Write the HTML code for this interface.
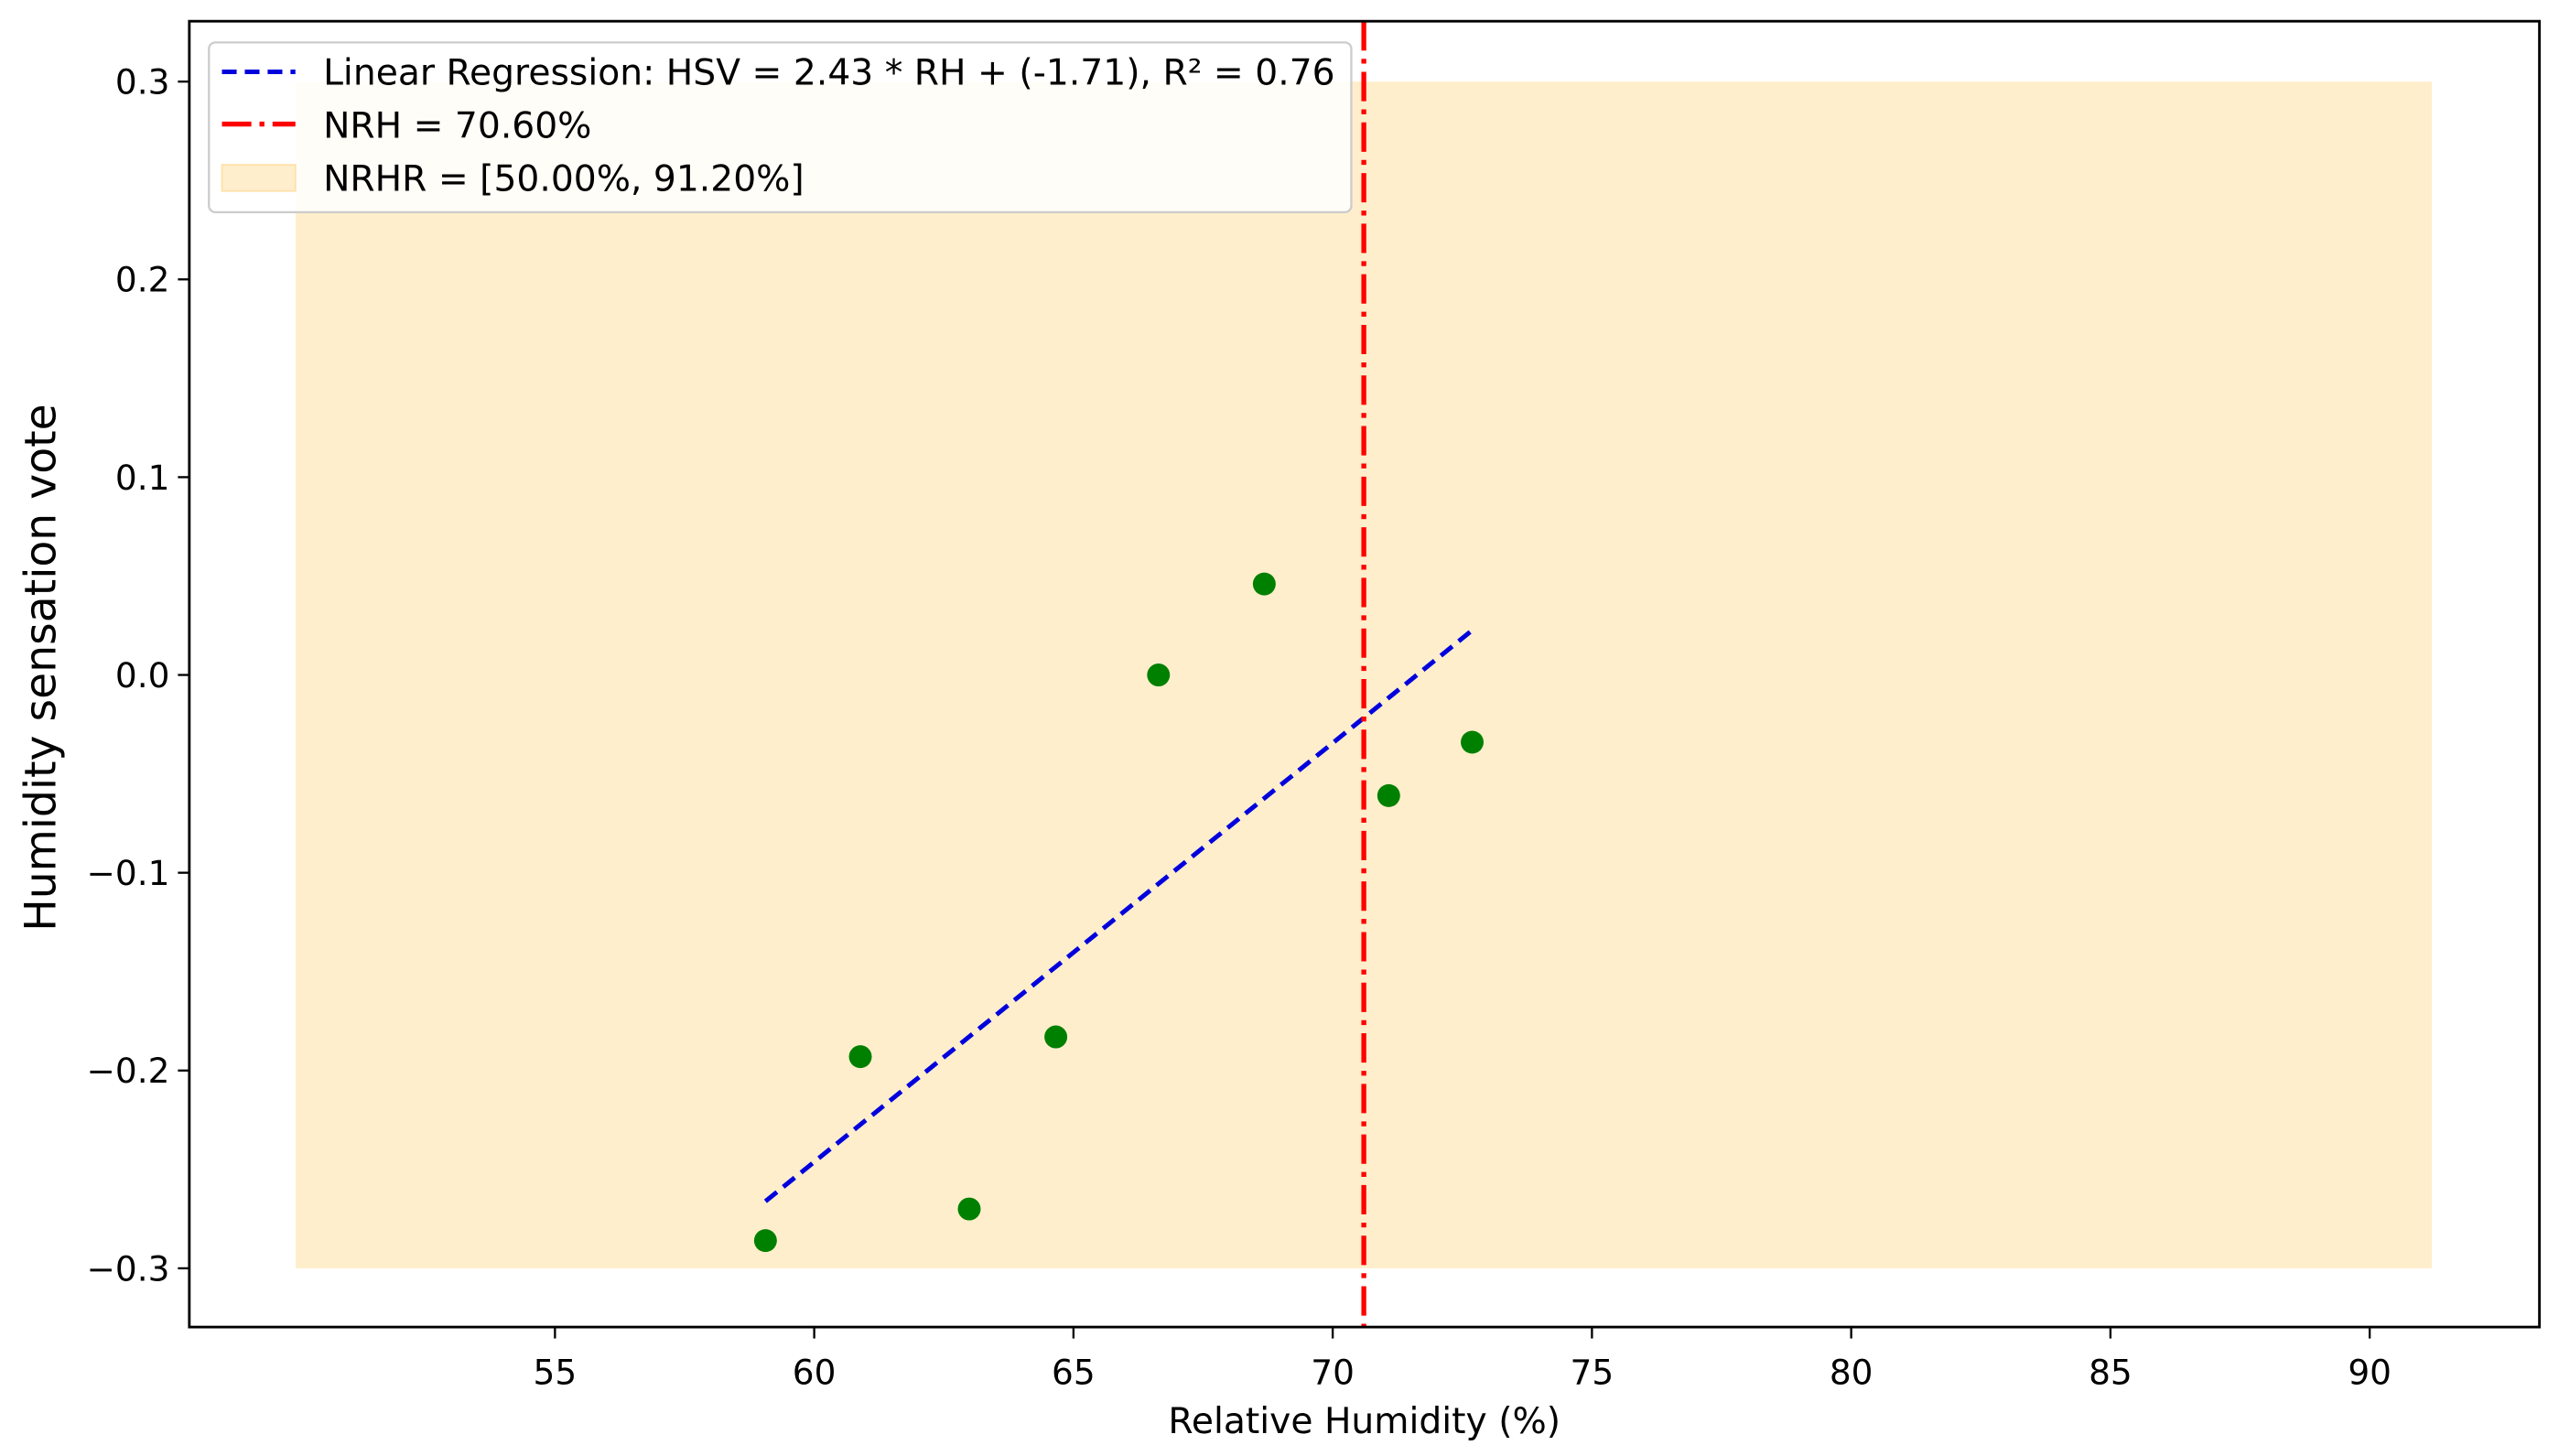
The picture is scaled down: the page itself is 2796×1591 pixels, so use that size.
<!DOCTYPE html>
<html><head><meta charset="utf-8"><style>html,body{margin:0;padding:0;background:#fff}svg{display:block}text{font-family:"DejaVu Sans","Liberation Sans",sans-serif;fill:#000}</style></head>
<body>
<svg id="chart" width="2796" height="1591" viewBox="0 0 1568 892" preserveAspectRatio="none" xmlns="http://www.w3.org/2000/svg">
<g id="plot"></g>
</svg>
<script>
const rhValues=[59.06,60.89,62.99,64.66,66.64,68.68,71.08,72.69];
const hsvValues=[-0.286,-0.193,-0.270,-0.183,0.000,0.046,-0.061,-0.034];
const xTicks=[55,60,65,70,75,80,85,90];
const yTicks=[-0.3,-0.2,-0.1,0.0,0.1,0.2,0.3];
const regSlope=[0.02118];
const regIntercept=[-1.517];
const nrh=[70.6];
const nrhr=[50.0,91.2];
const bandY=[-0.3,0.3];

const L=116,R=1556,T=13,B=813;
const xs=v=>181.2+(v-50)*31.77;
const ys=v=>413.5-v*1211.7;
const g=document.getElementById('plot');
const NS='http://www.w3.org/2000/svg';
function mk(tag,attrs,parent){const e=document.createElementNS(NS,tag);for(const k in attrs)e.setAttribute(k,attrs[k]);(parent||g).appendChild(e);return e;}

let e=mk('rect',{x:xs(nrhr[0]),y:ys(bandY[1]),width:xs(nrhr[1])-xs(nrhr[0]),height:ys(bandY[0])-ys(bandY[1]),fill:'#ffeecc'});



const rx0=rhValues[0],rx1=rhValues[rhValues.length-1];
e=mk('line',{x1:xs(rx0),y1:ys(regSlope[0]*rx0+regIntercept[0]),x2:xs(rx1),y2:ys(regSlope[0]*rx1+regIntercept[0]),stroke:'#0000dd','stroke-width':2.8,'stroke-dasharray':'9,5'});



rhValues.forEach((v,i)=>{
  const c=mk('circle',{cx:xs(v),cy:ys(hsvValues[i]),r:7,fill:'#008000'});
  
  
});

e=mk('line',{x1:xs(nrh[0]),y1:T,x2:xs(nrh[0]),y2:B,stroke:'#ff0000','stroke-width':3,'stroke-dasharray':'18,5,3,5'});



e=mk('rect',{x:L,y:T,width:R-L,height:B-T,fill:'none',stroke:'#000','stroke-width':1.6});



xTicks.forEach(v=>{
  const t=mk('line',{x1:xs(v),y1:B,x2:xs(v),y2:B+7,stroke:'#000','stroke-width':1.3});
  
  
  const l=mk('text',{x:xs(v),y:B+35,'text-anchor':'middle','font-size':21});
  l.textContent=v;
  
  
});
yTicks.forEach(v=>{
  const t=mk('line',{x1:L-7,y1:ys(v),x2:L,y2:ys(v),stroke:'#000','stroke-width':1.3});
  
  
  const l=mk('text',{x:L-12,y:ys(v)+7.5,'text-anchor':'end','font-size':21});
  l.textContent=(v<0?'\u2212':'')+Math.abs(v).toFixed(1);
  
  
});

e=mk('text',{x:836,y:878,'text-anchor':'middle','font-size':22});
e.textContent='Relative Humidity (%)';


e=mk('text',{x:0,y:0,'text-anchor':'middle','font-size':26.5,transform:'translate(34,409) rotate(-90)'});
e.textContent='Humidity sensation vote';



const lg=mk('g',{});


mk('rect',{x:128,y:26,width:700,height:104,rx:4,fill:'#fff','fill-opacity':0.85,stroke:'#ccc','stroke-width':1.3},lg);
mk('line',{x1:136,y1:44,x2:181,y2:44,stroke:'#0000dd','stroke-width':2.8,'stroke-dasharray':'9,5'},lg);
mk('line',{x1:136,y1:76,x2:181,y2:76,stroke:'#ff0000','stroke-width':3,'stroke-dasharray':'18,5,3,5'},lg);
mk('rect',{x:136,y:101,width:45,height:16,fill:'#ffeecc',stroke:'#ffe0a8'},lg);
const labels=['Linear Regression: HSV = 2.43 * RH + (-1.71), R\u00b2 = 0.76','NRH = 70.60%','NRHR = [50.00%, 91.20%]'];
labels.forEach((s,i)=>{
  const t=mk('text',{x:198,y:52+i*32.5,'font-size':22,textLength:(i==0?620:null)},lg);
  if(i!=0)t.removeAttribute('textLength');
  t.textContent=s;
  
  
});
</script>
</body></html>
